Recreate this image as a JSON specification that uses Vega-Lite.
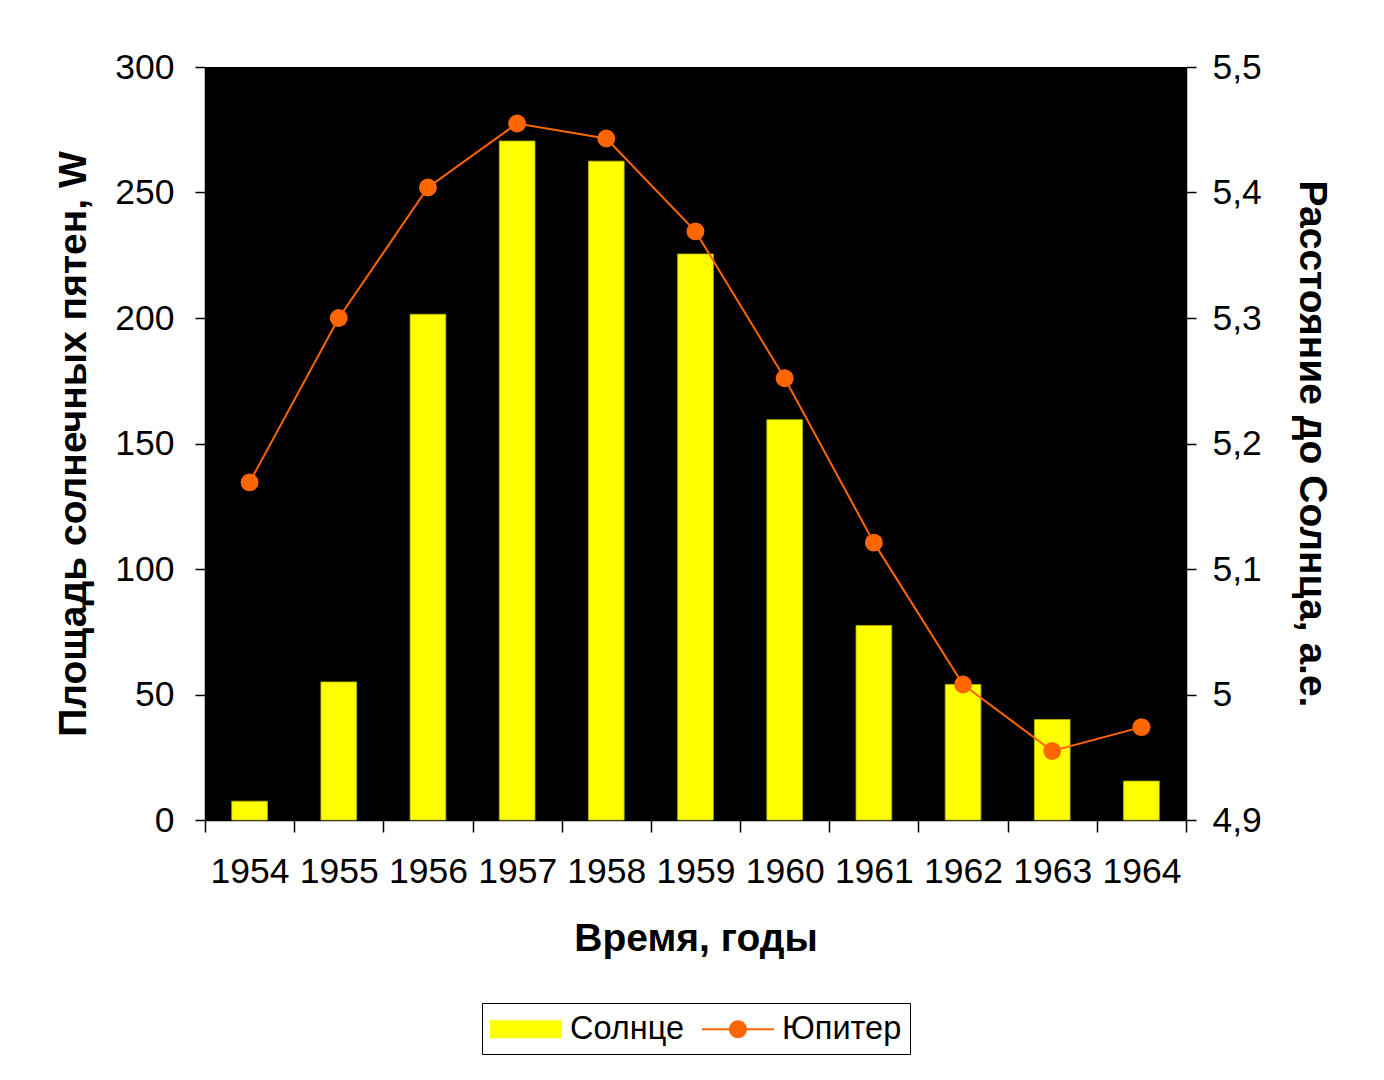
{
  "$schema": "https://vega.github.io/schema/vega-lite/v6.json",
  "width": 981,
  "height": 753,
  "autosize": {"type": "none"},
  "padding": {"left": 205, "top": 67, "right": 198, "bottom": 260},
  "background": "#ffffff",
  "data": {
    "values": [
      {"year": "1954", "sun": 7.5, "jupiter": 5.169},
      {"year": "1955", "sun": 55, "jupiter": 5.300},
      {"year": "1956", "sun": 201.5, "jupiter": 5.404},
      {"year": "1957", "sun": 270.5, "jupiter": 5.455},
      {"year": "1958", "sun": 262.5, "jupiter": 5.443},
      {"year": "1959", "sun": 225.5, "jupiter": 5.369},
      {"year": "1960", "sun": 159.5, "jupiter": 5.252},
      {"year": "1961", "sun": 77.5, "jupiter": 5.121},
      {"year": "1962", "sun": 54, "jupiter": 5.008},
      {"year": "1963", "sun": 40, "jupiter": 4.955},
      {"year": "1964", "sun": 15.5, "jupiter": 4.974}
    ]
  },
  "encoding": {
    "x": {
      "field": "year",
      "type": "ordinal",
      "scale": {"paddingInner": 0, "paddingOuter": 0},
      "axis": {
        "title": "Время, годы",
        "labelAngle": 0,
        "tickBand": "extent",
        "tickSize": 12,
        "labelPadding": 22,
        "titlePadding": 30,
        "labelAlign": "center"
      }
    }
  },
  "layer": [
    {
      "mark": {"type": "bar", "stroke": "#b8b800", "strokeWidth": 0.8, "width": {"band": 0.4}},
      "encoding": {
        "y": {
          "field": "sun",
          "type": "quantitative",
          "scale": {"domain": [0, 300], "nice": false},
          "axis": {
            "title": "Площадь солнечных пятен, W",
            "values": [0, 50, 100, 150, 200, 250, 300],
            "labelPadding": 21,
            "titlePadding": 21
          }
        },
        "color": {
          "datum": "Солнце",
          "scale": {"domain": ["Солнце", "Юпитер"], "range": ["#FFFF00", "#FF6600"]},
          "legend": {
            "title": null,
            "orient": "none",
            "direction": "horizontal",
            "legendX": 277,
            "legendY": 936,
            "strokeColor": "#000000",
            "padding": 8,
            "symbolSize": 1296,
            "symbolStrokeWidth": 0,
            "symbolOpacity": 1,
            "labelOffset": 44,
            "columnPadding": 17,
            "labelFontSize": 32.5,
            "labelFont": "Liberation Sans",
            "labelColor": "#000000",
            "fillColor": "#ffffff"
          }
        }
      }
    },
    {
      "encoding": {
        "y": {
          "field": "jupiter",
          "type": "quantitative",
          "scale": {"domain": [4.9, 5.5], "nice": false, "zero": false},
          "axis": {
            "orient": "right",
            "title": "Расстояние до Солнца, а.е.",
            "values": [4.9, 5.0, 5.1, 5.2, 5.3, 5.4, 5.5],
            "labelExpr": "replace(format(datum.value, '.1~f'), '.', ',')",
            "labelPadding": 16,
            "titlePadding": 30
          }
        }
      },
      "layer": [
        {
          "mark": {"type": "line", "color": "#FF6600", "strokeWidth": 2}
        },
        {
          "mark": {"type": "point", "shape": "circle", "filled": true, "opacity": 1, "size": 320, "strokeWidth": 0, "color": "#FF6600"}
        },
        {
          "mark": {"type": "point", "filled": true, "opacity": 0, "strokeWidth": 0},
          "encoding": {
            "color": {"datum": "Юпитер"},
            "shape": {
              "datum": "Юпитер",
              "scale": {
                "domain": ["Солнце", "Юпитер"],
                "range": [
                  "M-1,-0.5H3V0.5H-1Z",
                  "M-1,-0.06H3V0.06H-1Z M1.5,0 A0.5,0.5 0 1,1 0.5,0 A0.5,0.5 0 1,1 1.5,0Z"
                ]
              }
            }
          }
        }
      ]
    }
  ],
  "resolve": {"scale": {"y": "independent"}},
  "config": {
    "view": {"fill": "#000000", "stroke": null},
    "font": "Liberation Sans",
    "axis": {
      "labelFont": "Liberation Sans",
      "labelFontSize": 35.5,
      "labelColor": "#000000",
      "titleFont": "Liberation Sans",
      "titleFontSize": 39,
      "titleFontWeight": "bold",
      "titleColor": "#000000",
      "tickColor": "#000000",
      "domainColor": "#000000",
      "tickSize": 10,
      "tickWidth": 1.5,
      "domainWidth": 1.5,
      "grid": false
    }
  }
}
